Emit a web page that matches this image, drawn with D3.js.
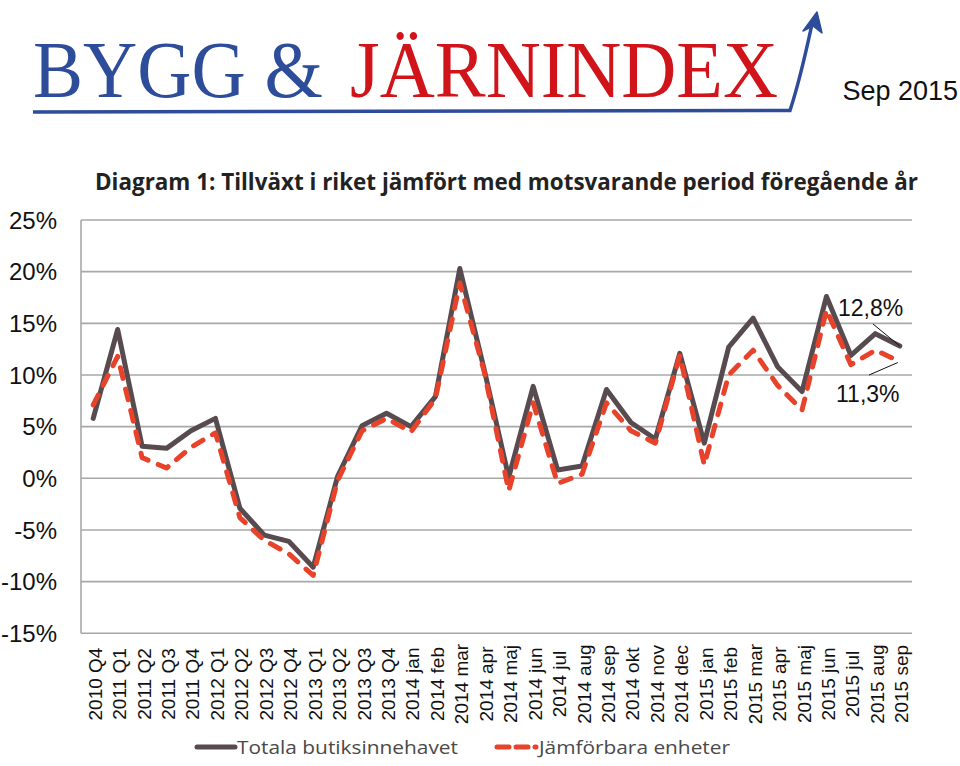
<!DOCTYPE html>
<html>
<head>
<meta charset="utf-8">
<script src="https://cdn.jsdelivr.net/npm/d3@7/dist/d3.min.js"></script>
<style>
  html, body { margin: 0; padding: 0; background: #fff; }
  svg { display: block; }
</style>
</head>
<body>
<svg id="chart" width="960" height="766"></svg>
<script>
// ---------------- DATA ----------------
const categories = [
  "2010 Q4","2011 Q1","2011 Q2","2011 Q3","2011 Q4",
  "2012 Q1","2012 Q2","2012 Q3","2012 Q4",
  "2013 Q1","2013 Q2","2013 Q3","2013 Q4",
  "2014 jan","2014 feb","2014 mar","2014 apr","2014 maj","2014 jun",
  "2014 jul","2014 aug","2014 sep","2014 okt","2014 nov","2014 dec",
  "2015 jan","2015 feb","2015 mar","2015 apr","2015 maj","2015 jun",
  "2015 jul","2015 aug","2015 sep"
];
const totalaButiksinnehavet = [
  5.8, 14.4, 3.1, 2.9, 4.6,
  5.8, -2.9, -5.5, -6.1,
  -8.6, 0.2, 5.1, 6.3,
  5.0, 7.9, 20.3, 10.5, 0.1, 8.9,
  0.8, 1.2, 8.6, 5.4, 3.8, 12.1,
  3.4, 12.7, 15.5, 10.8, 8.4, 17.6,
  11.9, 14.0, 12.8
];
const jamforbaraEnheter = [
  7.1, 11.8, 2.0, 1.0, 3.0,
  4.4, -3.8, -6.0, -7.3,
  -9.4, -0.2, 4.6, 5.8,
  4.5, 7.7, 18.9, 10.3, -1.2, 7.3,
  -0.5, 0.4, 7.3, 4.6, 3.4, 11.9,
  1.3, 10.0, 12.4, 9.0, 6.6, 16.3,
  11.0, 12.4, 11.3
];
const yTicks = [25, 20, 15, 10, 5, 0, -5, -10, -15];
const seriesNames = ["Totala butiksinnehavet", "Jämförbara enheter"];
const endLabels = ["12,8%", "11,3%"];
const titleText = "Diagram 1: Tillväxt i riket jämfört med motsvarande period föregående år";
const dateText = "Sep 2015";

// ---------------- LAYOUT ----------------
const svg = d3.select("#chart");
const plot = { left: 81, right: 912, top: 220, bottom: 633.3 };
const sans = "'Liberation Sans', Arial, Helvetica, sans-serif";
const colTotal = "#584b4f";
const colJamf = "#e8422a";
const gridCol = "#a8a8a8";

const x = d3.scalePoint().domain(categories).range([plot.left, plot.right]).padding(0.5);
const y = d3.scaleLinear().domain([-15, 25]).range([plot.bottom, plot.top]);

// ---------------- LOGO ----------------
const logo = svg.append("g");
logo.append("text")
  .attr("x", 33).attr("y", 97)
  .attr("font-family", "'Liberation Serif', 'Times New Roman', serif")
  .attr("font-size", 80)
  .attr("fill", "#2d4c99")
  .attr("textLength", 290).attr("lengthAdjust", "spacingAndGlyphs")
  .text("BYGG &");
logo.append("text")
  .attr("x", 350).attr("y", 97)
  .attr("font-family", "'Liberation Serif', 'Times New Roman', serif")
  .attr("font-size", 80)
  .attr("fill", "#d0141a")
  .attr("textLength", 428).attr("lengthAdjust", "spacingAndGlyphs")
  .text("JÄRNINDEX");
logo.append("path")
  .attr("d", "M33,112 L790,110.5 Q800,80 812,24")
  .attr("fill", "none")
  .attr("stroke", "#2d4c99")
  .attr("stroke-width", 3.5);
logo.append("path")
  .attr("d", "M817,12 L822,33 L813,26 L803,31 Z")
  .attr("fill", "#2d4c99")
  .attr("stroke", "#2d4c99")
  .attr("stroke-width", 1.5)
  .attr("stroke-linejoin", "round");

svg.append("text")
  .attr("x", 958).attr("y", 100)
  .attr("text-anchor", "end")
  .attr("font-family", sans)
  .attr("font-size", 27)
  .attr("fill", "#111")
  .text(dateText);

// ---------------- TITLE ----------------
svg.append("text")
  .attr("x", 95).attr("y", 190)
  .attr("font-family", "'Open Sans', 'Noto Sans', sans-serif")
  .attr("font-weight", "bold")
  .attr("font-size", 23)
  .attr("fill", "#222")
  .attr("textLength", 823).attr("lengthAdjust", "spacingAndGlyphs")
  .text(titleText);

// ---------------- GRID & AXES ----------------
svg.append("g").selectAll("line")
  .data(yTicks)
  .join("line")
  .attr("x1", plot.left).attr("x2", plot.right)
  .attr("y1", d => y(d)).attr("y2", d => y(d))
  .attr("stroke", gridCol)
  .attr("stroke-width", 1.6);

svg.append("line")
  .attr("x1", plot.left).attr("x2", plot.left)
  .attr("y1", y(25)).attr("y2", y(-15))
  .attr("stroke", gridCol).attr("stroke-width", 1.6);

svg.append("g").selectAll("text")
  .data(yTicks)
  .join("text")
  .attr("x", 57)
  .attr("y", d => y(d))
  .attr("dy", "0.36em")
  .attr("text-anchor", "end")
  .attr("font-family", sans)
  .attr("font-size", 24)
  .attr("fill", "#111")
  .text(d => d + "%");

svg.append("g").selectAll("text")
  .data(categories)
  .join("text")
  .attr("transform", d => `translate(${x(d) + 8.5},684) rotate(-90)`)
  .attr("text-anchor", "middle")
  .attr("font-family", sans)
  .attr("font-size", 19)
  .attr("fill", "#111")
  .text(d => d);

// ---------------- LINES ----------------
const line = d3.line()
  .x((d, i) => x(categories[i]))
  .y(d => y(d));

svg.append("path")
  .datum(totalaButiksinnehavet)
  .attr("d", line)
  .attr("fill", "none")
  .attr("stroke", colTotal)
  .attr("stroke-width", 5)
  .attr("stroke-linejoin", "round")
  .attr("stroke-linecap", "round");

svg.append("path")
  .datum(jamforbaraEnheter)
  .attr("d", line)
  .attr("fill", "none")
  .attr("stroke", colJamf)
  .attr("stroke-width", 5)
  .attr("stroke-dasharray", "11,11")
  .attr("stroke-linejoin", "round")
  .attr("stroke-linecap", "round");

// ---------------- END ANNOTATIONS ----------------
const lastCat = categories[categories.length - 1];
const lastT = totalaButiksinnehavet[totalaButiksinnehavet.length - 1];
const lastJ = jamforbaraEnheter[jamforbaraEnheter.length - 1];

svg.append("text")
  .attr("x", 838).attr("y", 316)
  .attr("font-family", sans).attr("font-size", 23).attr("fill", "#111")
  .text(endLabels[0]);
svg.append("line")
  .attr("x1", 873).attr("y1", 324)
  .attr("x2", x(lastCat)).attr("y2", y(lastT))
  .attr("stroke", "#111").attr("stroke-width", 1);

svg.append("text")
  .attr("x", 836).attr("y", 402)
  .attr("font-family", sans).attr("font-size", 23).attr("fill", "#111")
  .text(endLabels[1]);
svg.append("line")
  .attr("x1", 869).attr("y1", 375)
  .attr("x2", x(lastCat) - 2).attr("y2", y(lastJ) + 1)
  .attr("stroke", "#111").attr("stroke-width", 1);

// ---------------- LEGEND ----------------
const legFont = "'Open Sans', 'Noto Sans', sans-serif";
const legY = 748;
svg.append("line")
  .attr("x1", 197).attr("x2", 235).attr("y1", legY - 1).attr("y2", legY - 1)
  .attr("stroke", colTotal).attr("stroke-width", 5).attr("stroke-linecap", "round");
svg.append("text")
  .attr("x", 237).attr("y", legY + 6)
  .attr("font-family", legFont).attr("font-size", 18).attr("fill", "#4a4a4a")
  .attr("textLength", 221).attr("lengthAdjust", "spacingAndGlyphs")
  .text(seriesNames[0]);

svg.append("line")
  .attr("x1", 497).attr("x2", 536).attr("y1", legY - 1).attr("y2", legY - 1)
  .attr("stroke", colJamf).attr("stroke-width", 5)
  .attr("stroke-dasharray", "12,7").attr("stroke-linecap", "round");
svg.append("text")
  .attr("x", 539).attr("y", legY + 6)
  .attr("font-family", legFont).attr("font-size", 18).attr("fill", "#4a4a4a")
  .attr("textLength", 191).attr("lengthAdjust", "spacingAndGlyphs")
  .text(seriesNames[1]);
</script>
</body>
</html>
